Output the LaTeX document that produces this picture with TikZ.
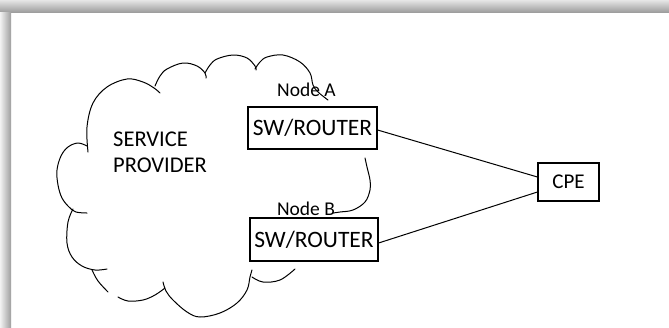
\documentclass[tikz,border=0pt]{standalone}
\usepackage{fontspec}
\setmainfont{Carlito}
\begin{document}
\begin{tikzpicture}[x=1pt,y=-1pt,
  boxnode/.style={draw=black, line width=1.2pt, inner sep=0pt, fill=white,
    text height=15pt, text depth=0pt},
  boxfont/.style={font=\fontsize{23.5}{27}\selectfont},
  spfont/.style={font=\fontsize{22.5}{26}\selectfont},
  labelfont/.style={font=\fontsize{19.5}{22}\selectfont},
  cloudline/.style={line width=1pt, line cap=round, line join=round},
  linkline/.style={line width=1pt}]
\useasboundingbox (0,0) rectangle (669,327);
\fill[white] (-2,-2) rectangle (671,329);
% shadow frame
\shade[top color=black!10, bottom color=black!38] (0,0) rectangle (669,12);
\shade[left color=black!5, right color=black!38] (0,12) rectangle (11,327);

% cloud
\draw[cloudline] plot[smooth, tension=0.6] coordinates {(87,146) (78,143) (68,147) (61,156) (57,170) (58,185) (62,198) (69,207) (76,212) (87,213)};
\draw[cloudline] plot[smooth, tension=0.6] coordinates {(88,152) (87,127) (93,103) (107,87) (127,79) (143,82) (154,88) (160,93)};
\draw[cloudline] plot[smooth, tension=0.6] coordinates {(155,86) (160,76) (167,69) (183,63) (197,66) (205,73) (206,78)};
\draw[cloudline] plot[smooth, tension=0.6] coordinates {(205,73) (210,65) (217,59) (233,55) (247,58) (255,66) (256,70)};
\draw[cloudline] plot[smooth, tension=0.6] coordinates {(255,69) (260,62) (267,57) (283,55) (300,62) (310,73) (313,85) (318,92) (328,100)};
\draw[cloudline] plot[smooth, tension=0.6] coordinates {(365,158) (367,167) (370,180) (370,190) (365,202) (353,210) (340,212) (333,213)};
\draw[cloudline] plot[smooth, tension=0.6] coordinates {(73,209) (68,222) (67,243) (72,257) (82,266) (95,270) (107,269)};
\draw[cloudline] plot[smooth, tension=0.6] coordinates {(92,270) (98,281) (108,292)};
\draw[cloudline] plot[smooth, tension=0.6] coordinates {(118,297) (128,301) (143,300) (155,295) (165,288)};
\draw[cloudline] plot[smooth, tension=0.6] coordinates {(163,282) (166,291) (173,300) (187,312) (200,317) (220,313) (237,303) (247,290) (250,277) (252,270)};
\draw[cloudline] plot[smooth, tension=0.6] coordinates {(252,277) (263,282) (280,280) (295,269)};

% texts
\node[anchor=base west, spfont, inner sep=0pt] (sp1) at (113,146) {SERVICE};
\node[anchor=base west, spfont, inner sep=0pt] (sp2) at (113,172.5) {PROVIDER};
\node[anchor=base, labelfont, inner sep=0pt] (la) at (306.5,96) {Node A};
\node[anchor=base, labelfont, inner sep=0pt] (lb) at (306,215) {Node B};

% boxes
\node[boxnode, boxfont, minimum width=129pt, minimum height=42pt] (ra) at (312.5,128) {SW/ROUTER};
\node[boxnode, boxfont, minimum width=128pt, minimum height=43pt] (rb) at (314,239.5) {SW/ROUTER};
\node[boxnode, font=\fontsize{21}{24}\selectfont, text height=13.5pt, minimum width=61pt, minimum height=38pt] (cpe) at (568.5,182) {CPE};

% links
\draw[linkline] ([yshift=-2pt]ra.east) -- ([yshift=5pt]cpe.west);
\draw[linkline] ([yshift=-3.5pt]rb.east) -- ([yshift=-10pt]cpe.west);
\end{tikzpicture}
\end{document}
